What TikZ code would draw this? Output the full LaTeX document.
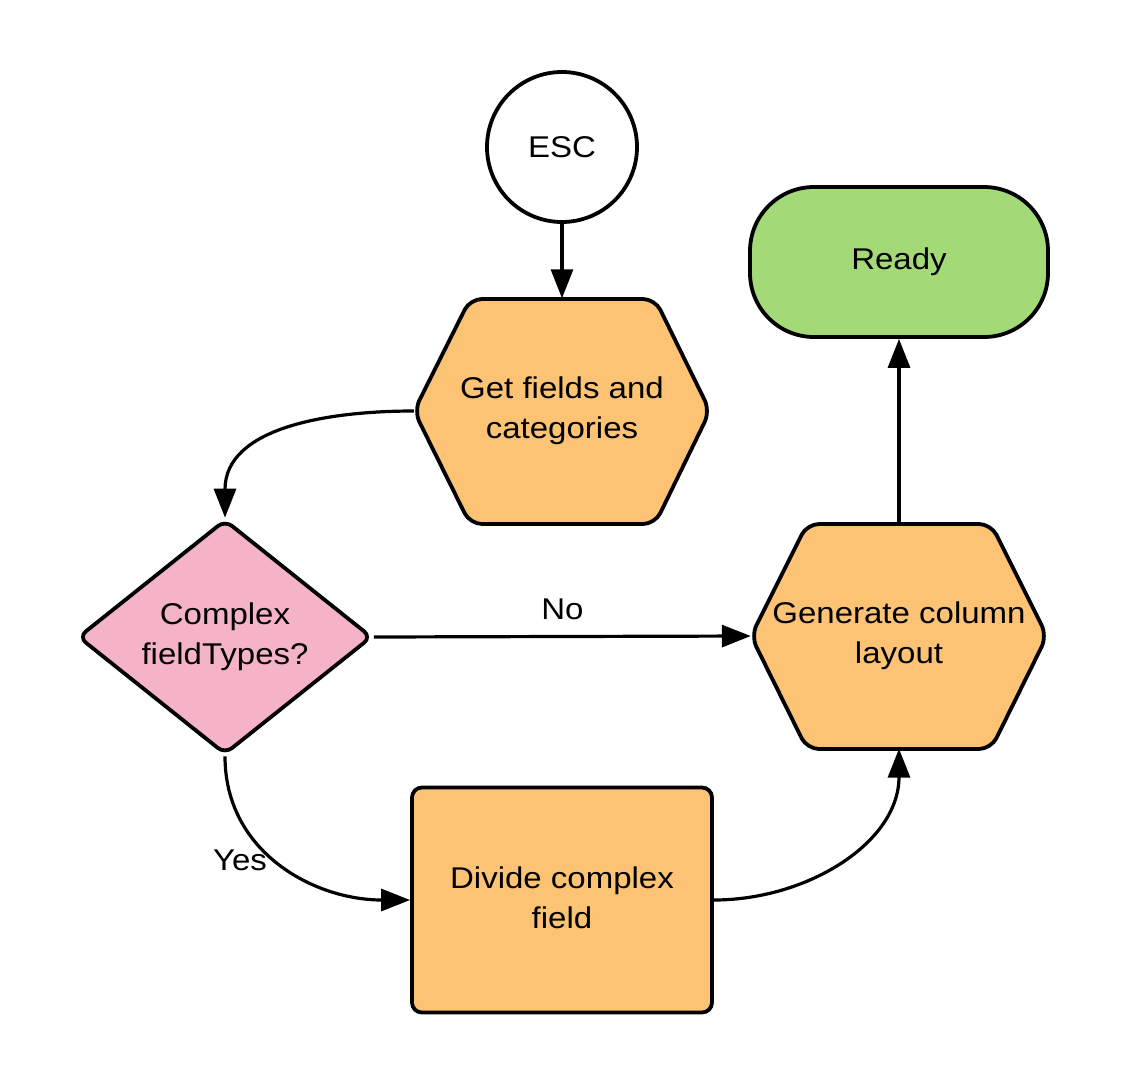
\documentclass[tikz,border=0pt]{standalone}
\usepackage{fontspec}
\setmainfont{Liberation Sans}[FakeStretch=1.1]
\usetikzlibrary{arrows.meta,shapes.geometric}
\definecolor{orangefill}{HTML}{FCC374}
\definecolor{pinkfill}{HTML}{F4B3C7}
\definecolor{greenfill}{HTML}{A3D977}
\tikzset{
  shapeline/.style={draw=black, line width=3.8pt},
  txt/.style={font=\fontsize{30}{40}\selectfont, align=center, text=black},
  hexshape/.style={shapeline, fill=orangefill, rounded corners=12pt},
  hexbox/.style={txt, shape=rectangle, minimum width=296pt, minimum height=225pt, inner sep=0pt},
  conn/.style={draw=black, line width=3.2pt, -{Triangle[length=29pt,width=22pt]}},
  lbl/.style={txt, inner sep=0pt}
}
\begin{document}
\begin{tikzpicture}[x=1pt,y=-1pt]
\useasboundingbox (0,0) rectangle (1125,1088);
% hexagon outlines
\path[hexshape] (414,411) -- (470,299) -- (655,299) -- (710,411) -- (655,524) -- (470,524) -- cycle;
\path[hexshape] (751,636) -- (807,524) -- (991,524) -- (1047,636) -- (991,749) -- (807,749) -- cycle;
% nodes
\node[txt, shape=circle, shapeline, fill=white, minimum size=150pt, inner sep=0pt] (esc) at (562,147) {ESC};
\node[hexbox] (get) at (562,411) {Get fields and\\categories};
\node[txt, shape=rectangle, shapeline, fill=greenfill, rounded corners=64pt, minimum width=298pt, minimum height=150pt, inner sep=0pt] (ready) at (899,262) {Ready};
\node[txt, shape=diamond, shapeline, fill=pinkfill, rounded corners=9pt, minimum width=294pt, minimum height=218pt, inner sep=0pt] (dec) at (225,637) {Complex\\fieldTypes?};
\node[hexbox] (gen) at (899,636) {Generate column\\layout};
\node[txt, shape=rectangle, shapeline, fill=orangefill, rounded corners=10pt, minimum width=300pt, minimum height=225pt, inner sep=0pt] (div) at (562,900) {\raisebox{4pt}{\begin{tabular}{@{}c@{}}Divide complex\\field\end{tabular}}};
% connectors
\draw[conn] (esc.south) -- (get.north);
\draw[conn] (get.west) to[out=180,in=90,looseness=1.05] (dec.north);
\draw[conn] (dec.east) -- node[lbl, above=15pt] (no) {No} (gen.west);
\draw[conn] (dec.south) to[out=-90,in=180,looseness=1.05] (div.west);
\node[lbl] (yes) at (240,860) {Yes};
\draw[conn] (div.east) to[out=0,in=-90,looseness=1.0] (gen.south);
\draw[conn] (gen.north) -- (ready.south);
\end{tikzpicture}
\end{document}
